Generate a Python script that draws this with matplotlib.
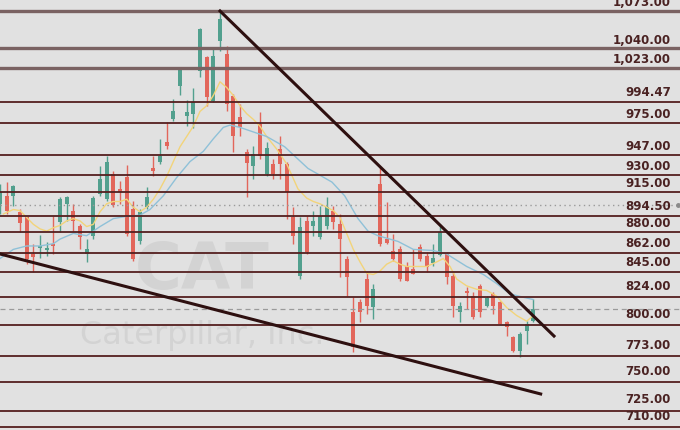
import matplotlib
matplotlib.use('Agg')
import matplotlib.pyplot as plt

# daily candles (left to right)
opens = [895.8, 902.9, 902.9, 888.8, 884.4, 852.0, 857.3, 855.5, 860.7, 880.0,
         895.8, 889.7, 876.5, 852.0, 867.7, 904.6, 900.2, 922.1, 909.0, 919.5,
         891.4, 863.4, 893.2, 927.4, 932.6, 950.2, 970.4, 999.3, 973.0, 974.8,
         1012.5, 1024.7, 986.1, 1038.8, 1027.4, 990.5, 972.1, 941.4, 929.1, 966.0,
         922.1, 930.9, 944.1, 930.9, 884.4, 832.7, 880.9, 876.5, 866.9, 876.5,
         889.7, 878.3, 847.6, 801.1, 809.9, 830.0, 805.5, 913.4, 865.1, 854.6,
         856.4, 841.5, 838.8, 858.1, 850.2, 844.1, 851.1, 852.0, 832.7, 801.1,
         819.5, 815.1, 823.9, 806.4, 816.9, 809.9, 792.3, 779.2, 766.9, 784.4,
         793.2]
closes = [906.3, 889.7, 911.6, 879.2, 847.6, 849.3, 859.0, 857.3, 859.0, 900.2,
          902.0, 880.9, 866.9, 856.4, 901.1, 917.7, 932.6, 895.0, 906.3, 869.5,
          847.6, 888.8, 902.0, 924.8, 937.9, 946.7, 977.4, 1015.1, 976.5, 985.3,
          1049.3, 989.7, 1025.6, 1058.1, 983.5, 955.4, 963.3, 931.8, 939.7, 937.9,
          944.9, 922.1, 930.9, 906.3, 867.7, 875.6, 853.7, 880.9, 885.3, 893.2,
          880.0, 865.1, 831.8, 770.4, 801.1, 806.4, 821.3, 860.7, 861.6, 847.6,
          830.0, 828.3, 834.4, 847.6, 840.6, 848.5, 871.2, 831.8, 806.4, 806.4,
          817.8, 796.7, 801.1, 813.4, 806.4, 790.6, 788.0, 766.9, 781.8, 790.6,
          804.0]
highs = [913.4, 915.1, 912.5, 891.4, 884.4, 860.7, 868.6, 862.5, 885.3, 902.0,
         902.9, 895.8, 878.3, 865.1, 902.9, 929.1, 937.9, 924.8, 916.0, 930.0,
         898.5, 891.4, 910.7, 937.9, 952.8, 967.7, 987.9, 1016.0, 987.0, 997.6,
         1050.2, 1025.6, 1031.8, 1065.1, 1034.4, 992.3, 983.5, 944.1, 946.7, 976.5,
         950.2, 935.3, 955.4, 932.6, 893.2, 884.4, 885.3, 889.7, 894.1, 902.0,
         894.1, 887.1, 850.2, 814.3, 812.5, 836.2, 825.7, 928.3, 897.6, 869.5,
         859.0, 845.0, 856.4, 860.7, 853.7, 860.7, 878.3, 853.7, 836.2, 809.9,
         823.0, 818.6, 825.7, 815.1, 818.6, 810.7, 793.2, 780.1, 783.6, 793.2,
         812.5]
lows = [887.1, 887.1, 894.1, 871.2, 843.2, 836.2, 848.5, 850.2, 852.0, 871.2,
        880.9, 872.1, 856.4, 845.0, 865.1, 902.9, 898.5, 893.2, 895.8, 867.7,
        845.8, 860.7, 891.4, 920.4, 930.9, 944.1, 968.6, 991.4, 964.2, 962.5,
        1007.2, 981.8, 985.3, 1030.0, 977.4, 941.4, 955.4, 902.0, 917.7, 935.3,
        920.4, 917.7, 917.7, 882.7, 860.7, 830.0, 852.0, 867.7, 865.1, 873.9,
        873.9, 831.8, 815.1, 766.0, 792.3, 799.4, 795.0, 859.0, 860.7, 845.8,
        828.3, 828.3, 834.4, 845.8, 836.2, 841.5, 850.2, 825.7, 796.7, 792.3,
        803.7, 795.0, 796.7, 805.5, 799.4, 790.6, 780.1, 766.0, 761.6, 773.1,
        792.3]

# moving averages (candle index, price)
fast_idx = [0.5, 2, 3, 4, 5, 6, 7, 8, 9, 10, 11, 12, 13, 14, 15, 16, 17, 18, 19, 20,
            21, 22, 23, 24, 25, 26, 27, 28, 29, 30, 31, 32, 33, 34, 35, 36, 37, 38, 39, 40,
            41.5, 43, 44.7, 46, 47, 48, 49, 50, 51, 52, 53, 54, 55, 56, 57, 58, 59, 60,
            61, 62, 63, 64, 65.5, 66.5, 67.5, 68.5, 70, 71.5, 73, 74.5, 76, 77.5, 79, 80]
fast_ma = [887, 891, 890, 884, 878, 874, 872, 875, 877, 881, 883, 881, 876, 878, 889, 896,
           898, 898, 900, 893, 889, 893, 900, 909, 920, 933, 946, 955, 964, 977, 982, 991,
           1003, 998, 991, 982, 975, 970, 964, 955, 944, 931, 909, 901, 898, 896, 893, 890,
           884, 870, 856, 845, 835, 834, 837, 843, 846, 843, 841, 841, 841, 841, 845, 848,
           841, 830, 824, 821, 820, 815, 805, 798, 793, 798]
slow_idx = [0, 2, 4, 6, 8, 9, 11, 13, 14, 15, 17, 19, 21, 22.5, 24.5, 26.5, 28.5, 30.5,
            32, 33.5, 34.5, 36, 38, 40, 42.7, 46.2, 49.8, 51.7, 53.7, 55.2, 56.7, 59.7,
            62, 65, 67, 70, 72.5, 74.5, 76.5, 78.5, 80]
slow_ma = [848, 856, 859, 859, 861, 865, 870, 868, 872, 876, 883, 885, 886, 891, 903, 919,
           933, 942, 953, 963, 965, 963, 959, 955, 946, 927, 915, 903, 883, 872, 868, 863,
           856, 855, 852, 841, 834, 826, 817, 814, 812]

# horizontal levels and price scale labels
level_lines = [1065.1, 1032.7, 1015.1, 985.3, 966.9, 938.9, 921.3, 906.4, 885.4, 871.4,
               853.0, 836.3, 814.2, 789.8, 762.6, 739.8, 714.4, 700.4]
price_labels = [1073.00, 1040.00, 1023.00, 994.47, 975.00, 947.00, 930.00, 915.00, 894.50,
                880.00, 862.00, 845.00, 824.00, 800.00, 773.00, 750.00, 725.00, 710.00]
last_close = 894.5
current_price = 803.7

# trend lines (candle index, price)
upper_trend = ([33, 83.1], [1065.1, 780.0])
lower_trend = ([0, 81.1], [852.0, 729.2])

bg = '#e1e1e1'
green = '#52a08e'
red = '#e2665b'

fig = plt.figure(figsize=(6.8, 4.31), dpi=100, facecolor=bg)
ax = fig.add_axes([0, 0, 1, 1])
ax.set_facecolor(bg)

# watermark
ax.text(30.3, 838, 'CAT', fontsize=46, fontweight='bold', color='#d3d3d3',
        ha='center', va='center', zorder=0)
ax.text(30.3, 781, 'Caterpillar, Inc.', fontsize=23, color='#d3d3d3',
        ha='center', va='center', zorder=0)

# candles
for i in range(len(opens)):
    o, c = opens[i], closes[i]
    col = green if c >= o else red
    ax.vlines(i, lows[i], highs[i], color=col, lw=1.0, zorder=2)
    ax.bar(i, max(abs(c - o), 0.9), bottom=min(o, c), width=0.6, color=col,
           linewidth=0, zorder=2)

ax.plot(fast_idx, fast_ma, color='#f2d47a', lw=1.0, zorder=3)
ax.plot(slow_idx, slow_ma, color='#8fc1d8', lw=1.0, zorder=3)

for k, lv in enumerate(level_lines):
    if k < 3:
        ax.axhline(lv, color='#7a6262', lw=2.4, zorder=4)
    else:
        ax.axhline(lv, color='#541f1f', lw=1.3, zorder=4)

ax.axhline(last_close, color='#9a9a9a', lw=1.0, ls=(0, (1, 2.5)), zorder=4)
ax.axhline(current_price, color='#9a9a9a', lw=0.9, ls=(0, (4, 3)), zorder=4)

ax.plot(*upper_trend, color='#2e1010', lw=2.2, zorder=5)
ax.plot(*lower_trend, color='#2e1010', lw=2.2, zorder=5)

for p in price_labels:
    ax.text(100.6, p, '{:,.2f}'.format(p), fontsize=8.5, fontweight='bold',
            color='#4a2222', ha='right', va='center', zorder=6)
ax.plot([101.7], [last_close], marker='o', ms=2.5, color='#8a8a8a', zorder=6)

ax.set_xlim(0, 102)
ax.set_ylim(697.6, 1075.6)
ax.axis('off')

fig.savefig('out.png', dpi=100, facecolor=bg)
